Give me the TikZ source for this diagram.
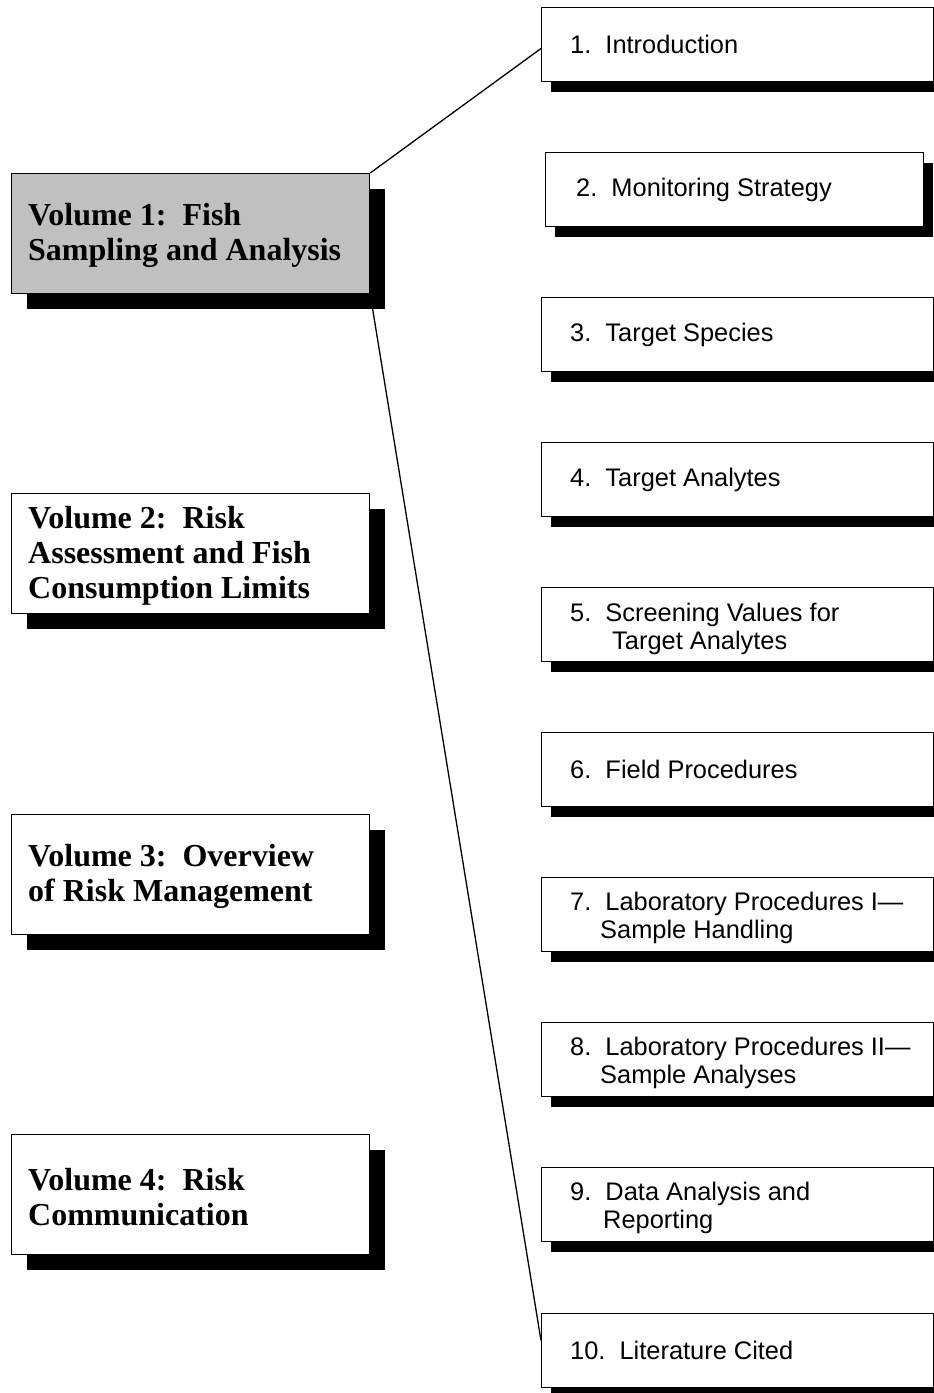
\documentclass[tikz,border=0pt]{standalone}
\usepackage{fontspec}
\setmainfont{Liberation Serif}
\newfontfamily\arialf{Liberation Sans}
\usetikzlibrary{shadows,backgrounds}
\definecolor{volgray}{HTML}{C0C0C0}
\tikzset{
  volbox/.style={draw, line width=1.2pt, minimum width=358pt, minimum height=120pt,
    inner sep=0pt, anchor=north west, fill=white,
    drop shadow={shadow xshift=15pt, shadow yshift=-15pt, fill=black, opacity=1}},
  voltext/.style={anchor=west, inner sep=0pt, align=left,
    font=\fontsize{32}{35}\selectfont\bfseries},
  secbox/.style={draw, line width=1pt, minimum width=392pt, minimum height=74pt,
    inner sep=0pt, anchor=north west, fill=white,
    drop shadow={shadow xshift=9pt, shadow yshift=-10pt, fill=black, opacity=1}},
  sectext/.style={anchor=west, inner sep=0pt, align=left,
    font=\arialf\fontsize{25.4}{28}\selectfont},
  link/.style={draw, line width=1.3pt},
}
\begin{document}
\begin{tikzpicture}[x=1pt,y=-1pt]
\useasboundingbox (0,0) rectangle (934,1393);
% volume boxes
\node[volbox, fill=volgray] (v1) at (11,173) {};
\node[volbox] (v2) at (11,493) {};
\node[volbox] (v3) at (11,814) {};
\node[volbox] (v4) at (11,1134) {};
\node[voltext] (v1t) at ([xshift=17pt,yshift=-2pt]v1.west) {Volume 1:\ \ Fish\\Sampling and Analysis};
\node[voltext] (v2t) at ([xshift=17pt,yshift=-2pt]v2.west) {Volume 2:\ \ Risk\\Assessment and Fish\\Consumption Limits};
\node[voltext] (v3t) at ([xshift=17pt,yshift=-2pt]v3.west) {Volume 3:\ \ Overview\\of Risk Management};
\node[voltext] (v4t) at ([xshift=17pt,yshift=-2pt]v4.west) {Volume 4:\ \ Risk\\Communication};
% section boxes
\node[secbox] (b1) at (541,7) {};
\node[secbox, minimum width=378pt] (b2) at (545,152) {};
\node[secbox] (b3) at (541,297) {};
\node[secbox] (b4) at (541,442) {};
\node[secbox] (b5) at (541,587) {};
\node[secbox] (b6) at (541,732) {};
\node[secbox] (b7) at (541,877) {};
\node[secbox] (b8) at (541,1022) {};
\node[secbox] (b9) at (541,1167) {};
\node[secbox] (b10) at (541,1313) {};
\node[sectext] (b1t) at ([xshift=29pt]b1.west) {1.\ \ Introduction};
\node[sectext] (b2t) at ([xshift=31pt]b2.west) {2.\ \ Monitoring Strategy};
\node[sectext] (b3t) at ([xshift=29pt]b3.west) {3.\ \ Target Species};
\node[sectext] (b4t) at ([xshift=29pt]b4.west) {4.\ \ Target Analytes};
\node[sectext] (b5t) at ([xshift=29pt,yshift=-4pt]b5.west) {5.\ \ Screening Values for\\\hspace*{42pt}Target Analytes};
\node[sectext] (b6t) at ([xshift=29pt]b6.west) {6.\ \ Field Procedures};
\node[sectext] (b7t) at ([xshift=29pt,yshift=-3pt]b7.west) {7.\ \ Laboratory Procedures I—\\\hspace*{30pt}Sample Handling};
\node[sectext] (b8t) at ([xshift=29pt,yshift=-3pt]b8.west) {8.\ \ Laboratory Procedures II—\\\hspace*{30pt}Sample Analyses};
\node[sectext] (b9t) at ([xshift=29pt,yshift=-3pt]b9.west) {9.\ \ Data Analysis and\\\hspace*{33pt}Reporting};
\node[sectext] (b10t) at ([xshift=29pt]b10.west) {10.\ \ Literature Cited};
% connectors
\begin{scope}[on background layer]
\draw[link] (v1.north east) -- ([yshift=-4pt]b1.west);
\draw[link] (v1.south east) -- ([yshift=10pt]b10.west);
\end{scope}
\end{tikzpicture}
\end{document}
